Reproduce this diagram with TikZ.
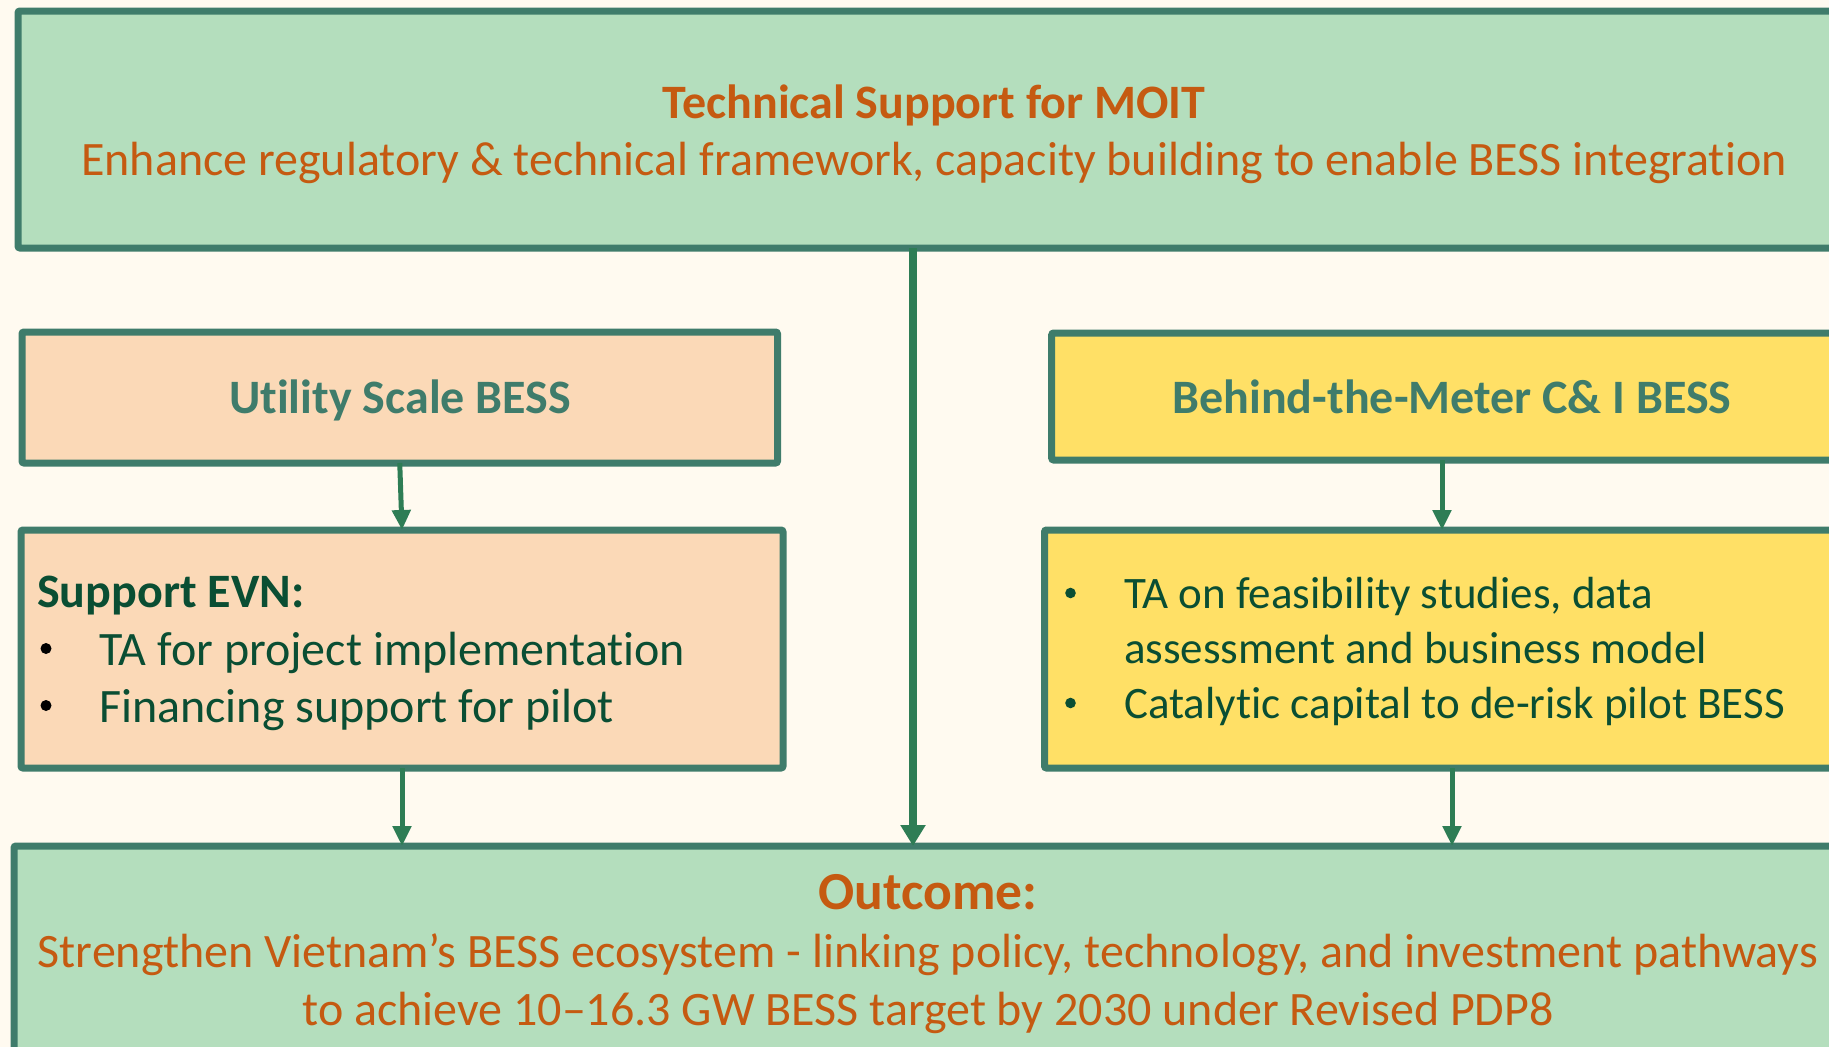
\documentclass[tikz,border=0pt]{standalone}
\usepackage{fontspec}
\setmainfont{Carlito}[Ligatures=NoCommon]
\usepackage{xcolor}
\usetikzlibrary{arrows.meta}

\definecolor{bgcream}{HTML}{FFFAF0}
\definecolor{mintfill}{HTML}{B4DEBD}
\definecolor{peachfill}{HTML}{FBD9B7}
\definecolor{sunfill}{HTML}{FFE066}
\definecolor{boxline}{HTML}{3F7C6B}
\definecolor{arrowgreen}{HTML}{2E7D55}
\definecolor{rusttext}{HTML}{C55A11}
\definecolor{deepgreen}{HTML}{0A4E33}

\tikzset{
    box/.style={draw=boxline, line width=7pt, rounded corners=2pt, anchor=north west, inner sep=0pt, outer sep=0pt},
    txt/.style={inner sep=0pt, anchor=base, font=\fontsize{48}{57}\selectfont},
    boldtxt/.style={txt, font=\fontsize{48}{57}\selectfont\bfseries},
    smalltxt/.style={inner sep=0pt, anchor=base west, font=\fontsize{45}{54}\selectfont, text=deepgreen},
    flow/.style={draw=arrowgreen, line width=5pt, -{Triangle[width=18pt, length=20pt]}},
    mainflow/.style={draw=arrowgreen, line width=7.5pt, -{Triangle[width=24pt, length=21pt]}}
}

\begin{document}
\begin{tikzpicture}[x=1pt, y=-1pt]
        \path[use as bounding box] (0,0) rectangle (1829,1047);
        \clip (0,0) rectangle (1829,1047);
        \fill[bgcream] (0,0) rectangle (1829,1047);

        % boxes
        \node[box, fill=mintfill, minimum width=1832pt, minimum height=237pt] (moit) at (18,11) {};
        \node[box, fill=peachfill, minimum width=755.5pt, minimum height=131pt] (util) at (22,332) {};
        \node[box, fill=peachfill, minimum width=762pt, minimum height=238pt] (evn) at (21,530) {};
        \node[box, fill=sunfill, minimum width=800pt, minimum height=127pt] (btm) at (1051.7,333) {};
        \node[box, fill=sunfill, minimum width=813.5pt, minimum height=238pt] (cap) at (1044.5,530) {};
        \node[box, fill=mintfill, minimum width=1831pt, minimum height=230pt] (outc) at (14,846) {};

        % texts
        \node[boldtxt, text=rusttext] (moittitle) at (934,118) {Technical Support for MOIT};
        \node[txt, text=rusttext] (moitsub) at (934,175) {Enhance regulatory \& technical framework, capacity building to enable BESS integration};

        \node[boldtxt, text=boxline] (utiltext) at (400,413) {Utility Scale BESS};
        \node[boldtxt, text=boxline] (btmtext) at (1452,413) {Behind-the-Meter C\& I BESS};

        \node[boldtxt, anchor=base west, text=deepgreen] (evnhead) at (37,607) {Support EVN:};
        \node[txt, anchor=base west, text=deepgreen] (evnta) at (99,665) {TA for project implementation};
        \node[txt, anchor=base west, text=deepgreen] (evnfin) at (99,722) {Financing support for pilot};
        \fill[black] (46,648.5) circle (5.5);
        \fill[black] (46,705.5) circle (5.5);

        \node[smalltxt] (capta) at (1124,608) {TA on feasibility studies, data};
        \node[smalltxt] (capass) at (1124,663) {assessment and business model};
        \node[smalltxt] (capcat) at (1124,718) {Catalytic capital to de-risk pilot BESS};
        \fill[deepgreen] (1070.5,593) circle (5.3);
        \fill[deepgreen] (1070.5,703) circle (5.3);

        \node[txt, text=rusttext, font=\fontsize{53.5}{63}\selectfont\bfseries] (outchead) at (928,909) {Outcome:};
        \node[txt, text=rusttext] (outcone) at (928,967) {Strengthen Vietnam’s BESS ecosystem - linking policy, technology, and investment pathways};
        \node[txt, text=rusttext] (outctwo) at (928,1025) {to achieve 10–16.3 GW BESS target by 2030 under Revised PDP8};

        % connectors
        \coordinate (mainx) at (913,0);
        \coordinate (btmx) at (1442,0);
        \coordinate (capx) at (1452,0);
        \draw[mainflow] (moit.south -| mainx) -- (outc.north -| mainx);
        \draw[flow] (util.south) -- (evn.north);
        \draw[flow] (evn.south) -- (evn.south |- outc.north);
        \draw[flow] (btm.south -| btmx) -- (cap.north -| btmx);
        \draw[flow] (cap.south -| capx) -- (outc.north -| capx);
    \end{tikzpicture}
\end{document}
